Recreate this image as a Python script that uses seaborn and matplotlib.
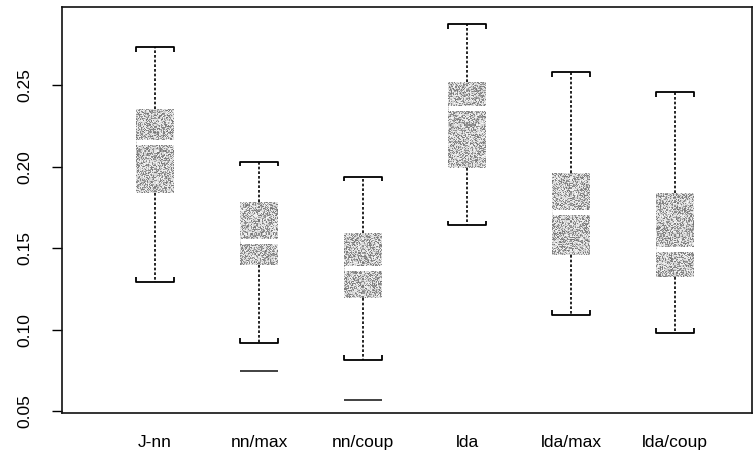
import numpy as np
import pandas as pd
import matplotlib
matplotlib.use("Agg")
import matplotlib.pyplot as plt
import seaborn as sns

# Five-number summaries per method (whisker ends, quartiles, median)
methods = ["J-nn", "nn/max", "nn/coup", "lda", "lda/max", "lda/coup"]
whisker_low = [0.1296, 0.0922, 0.0818, 0.1640, 0.1094, 0.0983]
quart_1 = [0.1840, 0.1400, 0.1198, 0.1993, 0.1460, 0.1326]
medians = [0.2152, 0.1545, 0.1380, 0.2360, 0.1724, 0.1498]
quart_3 = [0.2355, 0.1785, 0.1595, 0.2520, 0.1963, 0.1840]
whisker_high = [0.2734, 0.2030, 0.1938, 0.2874, 0.2581, 0.2458]
# Values beyond the whiskers
outlier_method = ["nn/max", "nn/coup"]
outlier_value = [0.0745, 0.0567]

y_ticks = [0.05, 0.10, 0.15, 0.20, 0.25]
y_ticklabels = ["0.05", "0.10", "0.15", "0.20", "0.25"]

rows = []
for m, a, b, c, d, e in zip(methods, whisker_low, quart_1, medians, quart_3, whisker_high):
    for v in (a, b, c, d, e):
        rows.append({"method": m, "value": v})
df = pd.DataFrame(rows)

sns.set_theme(style="white")
plt.rcParams["font.family"] = ["Liberation Sans", "DejaVu Sans"]

fig = plt.figure(figsize=(7.56, 4.55), dpi=100)
ax = fig.add_axes([0.082, 0.0923, 0.9127, 0.8923])

BOX_W = 0.36
sns.boxplot(
    data=df, x="method", y="value", order=methods, ax=ax,
    whis=(0, 100), width=BOX_W, showfliers=False,
    color="#b4b4b4", linecolor="black",
    boxprops=dict(linewidth=0, edgecolor="none"),
    medianprops=dict(color="white", linewidth=3.6, zorder=5),
    whiskerprops=dict(color="black", linewidth=1.2, linestyle=(0, (1.6, 1.2))),
    capprops=dict(visible=False),
)

ax.set_xlim(-0.894, 5.74)
ax.set_ylim(0.049, 0.298)

# Bracket-shaped caps at the whisker ends
tick_h = 0.0028
for i, (lo, hi) in enumerate(zip(whisker_low, whisker_high)):
    x0, x1 = i - BOX_W / 2, i + BOX_W / 2
    ax.plot([x0, x0, x1, x1], [hi - tick_h, hi, hi, hi - tick_h],
            color="black", lw=1.3, zorder=4, solid_capstyle="butt")
    ax.plot([x0, x0, x1, x1], [lo + tick_h, lo, lo, lo + tick_h],
            color="black", lw=1.3, zorder=4, solid_capstyle="butt")

# Outliers drawn as short horizontal strokes
for m, v in zip(outlier_method, outlier_value):
    i = methods.index(m)
    ax.hlines(v, i - BOX_W / 2, i + BOX_W / 2, color="#333333", lw=1.3, zorder=4)

# Stippled grey texture inside each box
fig.canvas.draw()
rng = np.random.default_rng(7)
for patch in list(ax.patches):
    ext = patch.get_path().get_extents()
    (px0, py0), (px1, py1) = ax.transData.transform([[ext.x0, ext.y0], [ext.x1, ext.y1]])
    w_px = max(int(abs(px1 - px0)), 2)
    h_px = max(int(abs(py1 - py0)), 2)
    pick = rng.uniform(0.0, 1.0, size=(h_px, w_px))
    tex = np.where(pick < 0.42, rng.uniform(0.45, 0.65, size=pick.shape),
                   rng.uniform(0.78, 0.97, size=pick.shape))
    im = ax.imshow(tex, cmap="gray", vmin=0, vmax=1, aspect="auto",
                   interpolation="nearest",
                   extent=[ext.x0, ext.x1, ext.y0, ext.y1], zorder=3)
    im.set_clip_path(patch)

ax.set_xlim(-0.894, 5.74)
ax.set_ylim(0.049, 0.298)

ax.set_xlabel("")
ax.set_ylabel("")
ax.set_yticks(y_ticks)
ax.set_yticklabels(y_ticklabels, rotation=90, va="center", fontsize=12.5, color="black")
ax.tick_params(axis="y", left=True, length=7, width=1, color="black", pad=14,
               labelcolor="black")
ax.tick_params(axis="x", bottom=False, length=0, pad=16, labelsize=12.5,
               labelcolor="black")
for sp in ax.spines.values():
    sp.set_visible(True)
    sp.set_color("#111111")
    sp.set_linewidth(1.2)

fig.savefig("out.png", dpi=100, facecolor="white")
